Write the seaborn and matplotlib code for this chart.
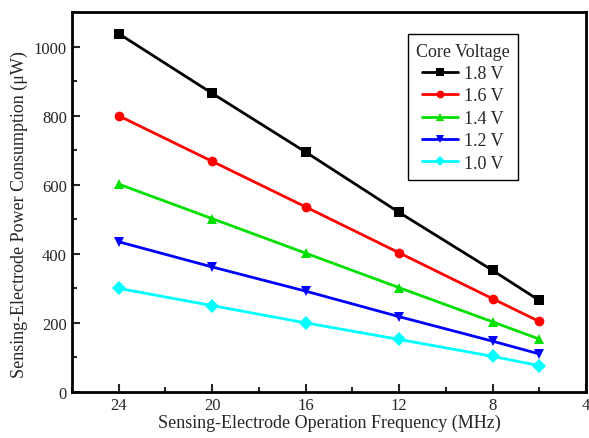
import numpy as np
import pandas as pd
import matplotlib
matplotlib.use("Agg")
import matplotlib.pyplot as plt
import seaborn as sns
from matplotlib.ticker import MultipleLocator

freq = [24, 20, 16, 12, 8, 6]
labels = ["1.8 V", "1.6 V", "1.4 V", "1.2 V", "1.0 V"]
p18 = [1038, 865, 695, 520, 352, 265]
p16 = [800, 668, 536, 403, 270, 204]
p14 = [602, 502, 402, 302, 203, 153]
p12 = [435, 362, 292, 218, 147, 110]
p10 = [300, 250, 200, 152, 103, 76]
colors = ["#000000", "#ff0000", "#00e000", "#0000ff", "#00ffff"]
markers = ["s", "o", "^", "v", "D"]

series = [p18, p16, p14, p12, p10]
df = pd.DataFrame({
    "freq": freq * len(labels),
    "power": sum(series, []),
    "voltage": [l for l in labels for _ in freq],
})

sns.set_style("ticks")
plt.rcParams["font.family"] = ["Liberation Serif", "DejaVu Serif"]

fig = plt.figure(figsize=(5.89, 4.39), dpi=100)
ax = fig.add_axes([0.122, 0.105, 0.873, 0.865])

sns.lineplot(data=df, x="freq", y="power", hue="voltage", style="voltage",
             hue_order=labels, style_order=labels,
             palette=dict(zip(labels, colors)),
             markers=dict(zip(labels, markers)), dashes=False,
             linewidth=2, markersize=7, markeredgewidth=0, ax=ax)

ax.set_xlim(26, 4)
ax.set_ylim(0, 1100)
ax.xaxis.set_major_locator(MultipleLocator(4))
ax.xaxis.set_minor_locator(MultipleLocator(2))
ax.yaxis.set_major_locator(MultipleLocator(200))
ax.yaxis.set_minor_locator(MultipleLocator(100))
ax.tick_params(which="major", direction="in", length=6, width=1.5, labelsize=12)
ax.tick_params(which="minor", direction="in", length=3.5, width=1.5)
for s in ax.spines.values():
    s.set_linewidth(2)
    s.set_color("black")

ax.set_xlabel("Sensing-Electrode Operation Frequency (MHz)", fontsize=13, labelpad=1)
ax.set_ylabel("Sensing-Electrode Power Consumption (\u03bcW)", fontsize=13)
ax.yaxis.set_label_coords(-0.085, 0.47)

leg = ax.legend(title="Core Voltage", loc="upper left", bbox_to_anchor=(0.636, 0.965),
                fontsize=13, title_fontsize=13, frameon=True, fancybox=False,
                edgecolor="black", framealpha=1, handlelength=2.0, handletextpad=0.3,
                borderpad=0.45, labelspacing=0.3, markerscale=0.8)
leg.get_frame().set_linewidth(1)

fig.savefig("out.png", dpi=100)
